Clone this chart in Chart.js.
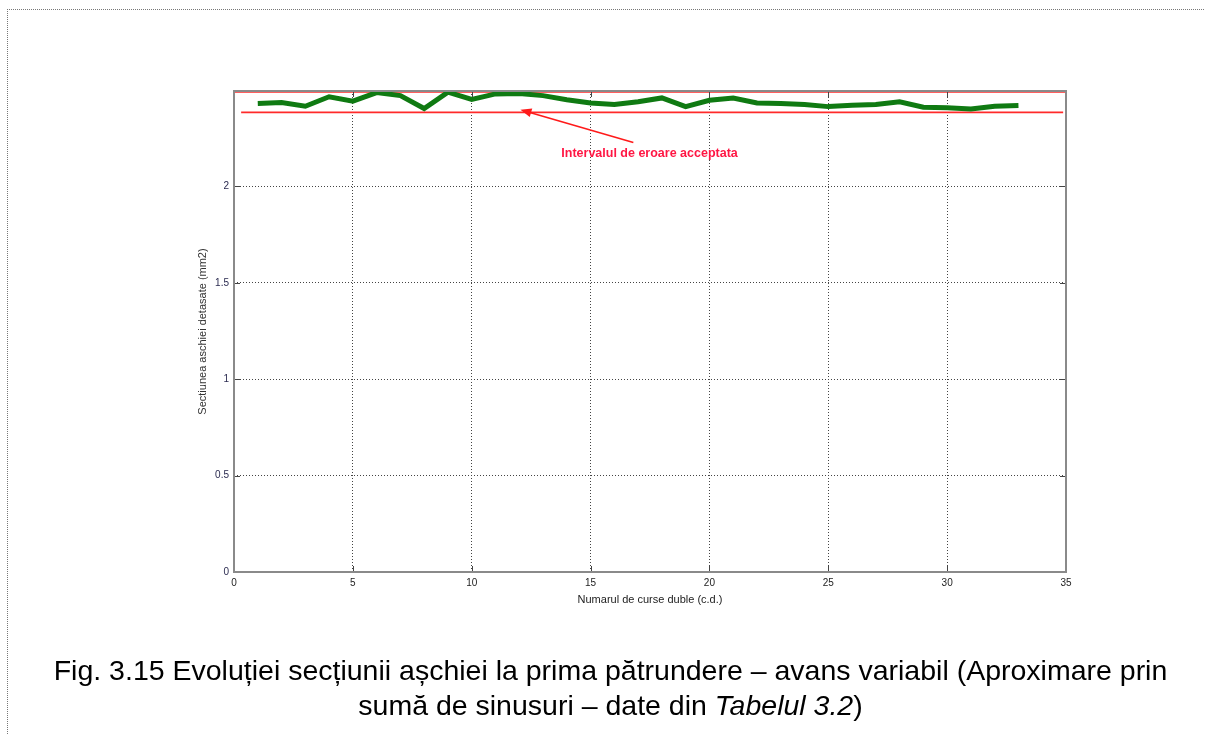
<!DOCTYPE html>
<html>
<head>
<meta charset="utf-8">
<script src="https://cdn.jsdelivr.net/npm/chart.js@4"></script>
<style>
    body { margin: 0; background: #fff; font-family: "Liberation Sans", Arial, sans-serif; }
    #page { position: relative; width: 1205px; height: 735px; overflow: hidden; }
    #frame { position: absolute; left: 7px; top: 9px; width: 1210px; height: 740px;
             border-left: 1px dotted #777; border-top: 1px dotted #777; }
    #chart { position: absolute; left: 0; top: 0; }
    #caption { position: absolute; left: 0; width: 1221px; top: 653px; text-align: center;
               font-size: 28.5px; line-height: 35px; color: #000; white-space: nowrap; }
</style>
</head>
<body>
<div id="page">
    <div id="frame"></div>
    <canvas id="chart" width="1205" height="735"></canvas>
    <div id="caption">Fig. 3.15 Evoluției secțiunii așchiei la prima pătrundere – avans variabil (Aproximare prin<br>sumă de sinusuri – date din <i>Tabelul 3.2</i>)</div>
</div>
<script>
const cursa = [1, 2, 3, 4, 5, 6, 7, 8, 9, 10, 11, 12, 13, 14, 15, 16, 17,
               18, 19, 20, 21, 22, 23, 24, 25, 26, 27, 28, 29, 30, 31, 32, 33];
const sectiune = [2.430, 2.435, 2.416, 2.465, 2.442, 2.487, 2.471, 2.404, 2.489, 2.451, 2.480,
                  2.482, 2.471, 2.450, 2.433, 2.425, 2.439, 2.459, 2.414, 2.447, 2.459, 2.433,
                  2.430, 2.425, 2.414, 2.421, 2.425, 2.439, 2.411, 2.408, 2.402, 2.416, 2.420];
const limitaSup = 2.49;
const limitaInf = 2.384;
const xTicks = [0, 5, 10, 15, 20, 25, 30, 35];
const yTicks = [0, 0.5, 1, 1.5, 2];
const eticheta = "Intervalul de eroare acceptata";

// frame, inward tick marks and the red arrow with its label
const axesBox = {
    id: "axesBox",
    afterDraw(chart) {
        const ctx = chart.ctx;
        const a = chart.chartArea;
        const xs = chart.scales.x, ys = chart.scales.y;
        ctx.save();
        ctx.strokeStyle = "#444";
        ctx.lineWidth = 1;
        xTicks.forEach(v => {
            const px = Math.round(xs.getPixelForValue(v)) + 0.5;
            ctx.beginPath();
            ctx.moveTo(px, a.bottom); ctx.lineTo(px, a.bottom - 6);
            ctx.moveTo(px, a.top); ctx.lineTo(px, a.top + 6);
            ctx.stroke();
        });
        yTicks.forEach(v => {
            const py = Math.round(ys.getPixelForValue(v)) + 0.5;
            ctx.beginPath();
            ctx.moveTo(a.left, py); ctx.lineTo(a.left + 6, py);
            ctx.moveTo(a.right, py); ctx.lineTo(a.right - 6, py);
            ctx.stroke();
        });
        ctx.strokeStyle = "#8a8a8a";
        ctx.lineWidth = 2;
        ctx.strokeRect(a.left, a.top, a.right - a.left, a.bottom - a.top);

        // arrow pointing at the lower limit
        const x0 = xs.getPixelForValue(16.8), y0 = ys.getPixelForValue(2.228);
        const x1 = xs.getPixelForValue(12.05), y1 = ys.getPixelForValue(2.398);
        const ang = Math.atan2(y1 - y0, x1 - x0);
        ctx.strokeStyle = "#ff1a1a";
        ctx.fillStyle = "#ff1a1a";
        ctx.lineWidth = 1.6;
        ctx.beginPath();
        ctx.moveTo(x0, y0);
        ctx.lineTo(x1 - 8 * Math.cos(ang), y1 - 8 * Math.sin(ang));
        ctx.stroke();
        ctx.beginPath();
        ctx.moveTo(x1, y1);
        ctx.lineTo(x1 - 11 * Math.cos(ang) + 4.5 * Math.sin(ang), y1 - 11 * Math.sin(ang) - 4.5 * Math.cos(ang));
        ctx.lineTo(x1 - 11 * Math.cos(ang) - 4.5 * Math.sin(ang), y1 - 11 * Math.sin(ang) + 4.5 * Math.cos(ang));
        ctx.closePath();
        ctx.fill();

        ctx.fillStyle = "#ff1744";
        ctx.font = "bold 12.5px 'Liberation Sans', Arial, sans-serif";
        ctx.textAlign = "center";
        ctx.textBaseline = "middle";
        ctx.fillText(eticheta, xs.getPixelForValue(17.48), ys.getPixelForValue(2.17));
        ctx.restore();
    }
};

new Chart(document.getElementById("chart"), {
    type: "scatter",
    data: {
        datasets: [
            {
                data: cursa.map((c, i) => ({ x: c, y: sectiune[i] })),
                showLine: true,
                borderColor: "#0f7a12",
                borderWidth: 5,
                pointRadius: 0,
                tension: 0
            },
            {
                data: [{ x: 0, y: limitaSup }, { x: 35, y: limitaSup }],
                showLine: true,
                borderColor: "#ff2a2a",
                borderWidth: 1.6,
                pointRadius: 0,
                clip: false
            },
            {
                data: [{ x: 0.3, y: limitaInf }, { x: 34.88, y: limitaInf }],
                showLine: true,
                borderColor: "#ff2a2a",
                borderWidth: 1.6,
                pointRadius: 0,
                clip: false
            }
        ]
    },
    options: {
        responsive: false,
        animation: false,
        layout: {
            padding: { left: 196, top: 91, right: 139, bottom: 128 }
        },
        plugins: {
            legend: { display: false },
            tooltip: { enabled: false }
        },
        scales: {
            x: {
                type: "linear",
                min: 0,
                max: 35,
                afterFit: scale => { scale.height = 35; },
                afterBuildTicks: scale => { scale.ticks = xTicks.map(v => ({ value: v })); },
                grid: { color: "#444", lineWidth: 1, drawTicks: false },
                border: { display: false, dash: [1, 2] },
                ticks: {
                    padding: 5,
                    color: "#222",
                    callback: v => String(v),
                    font: { family: "'Liberation Sans', Arial, sans-serif", size: 10 }
                },
                title: {
                    display: true,
                    text: "Numarul de curse duble (c.d.)",
                    color: "#222",
                    padding: 0,
                    font: { family: "'Liberation Sans', Arial, sans-serif", size: 11 }
                }
            },
            y: {
                min: 0,
                max: 2.495,
                afterFit: scale => { scale.width = 38; },
                afterBuildTicks: scale => { scale.ticks = yTicks.map(v => ({ value: v })); },
                grid: { color: "#444", lineWidth: 1, drawTicks: false },
                border: { display: false, dash: [1, 2] },
                ticks: {
                    padding: 5,
                    color: "#2b2b50",
                    callback: v => String(v),
                    font: { family: "'Liberation Sans', Arial, sans-serif", size: 10 }
                },
                title: {
                    display: true,
                    text: "Sectiunea aschiei detasate (mm2)",
                    color: "#333",
                    padding: 0,
                    font: { family: "'Liberation Sans', Arial, sans-serif", size: 11 }
                }
            }
        }
    },
    plugins: [axesBox]
});
</script>
</body>
</html>
